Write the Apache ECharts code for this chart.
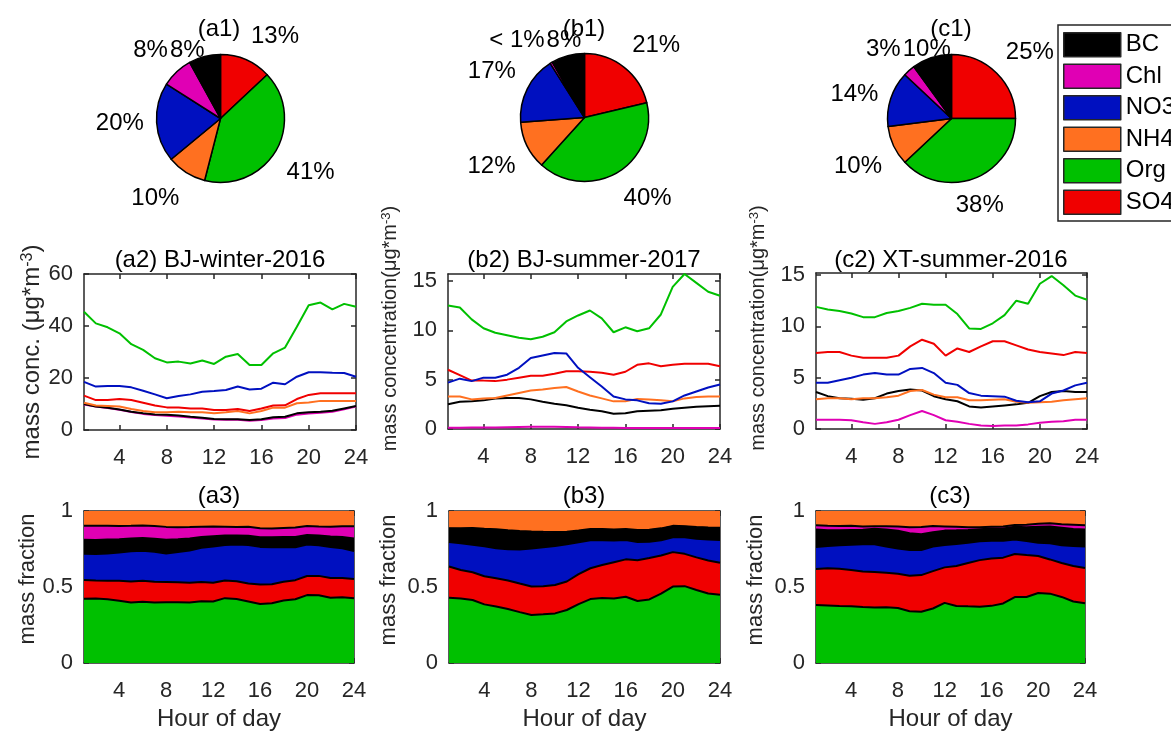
<!DOCTYPE html>
<html><head><meta charset="utf-8">
<script src="https://cdn.jsdelivr.net/npm/echarts@6/dist/echarts.min.js"></script>
<style>html,body{margin:0;padding:0;background:#fff}#c{width:1171px;height:731px}</style>
</head><body><div id="c"></div>
<script>
const F = '"Liberation Sans", Arial, Helvetica, sans-serif';
const hours = [1,2,3,4,5,6,7,8,9,10,11,12,13,14,15,16,17,18,19,20,21,22,23,24];
const species = ['BC','Chl','NO3','NH4','Org','SO4'];
const colors = {BC:'#000000', Chl:'#e000b4', NO3:'#0010c0', NH4:'#ff7020', Org:'#00c000', SO4:'#f00000'};

// pie charts (clockwise from 12 o'clock)
const pieOrder = ['SO4','Org','NH4','NO3','Chl','BC'];
const a1Pct = [13,41,10,20,8,8];
const b1Pct = [21.3,40.4,12.1,17.2,0.6,8.4];
const c1Pct = [25,38,10,14,3,10];

// (a2) BJ-winter-2016
const a2_BC  = [10,9,8.6,7.9,7,6.4,6,5.9,5.6,5.1,4.7,4.2,4.1,4.1,3.8,4.1,4.9,5.1,6.4,6.8,7,7.4,8.3,9.2];
const a2_Chl = [9.8,9,8.5,7.8,6.9,6.2,5.8,5.5,5.2,4.8,4.4,4.0,3.9,3.9,3.6,3.8,4.4,4.6,5.9,6.3,6.6,7.0,8.0,9.0];
const a2_NO3 = [18.5,16.7,16.9,16.9,16.4,15.1,13.7,12.2,13.1,13.7,14.7,15,15.4,16.7,15.6,15.9,18.2,17.6,20.5,22.2,22.2,22,21.9,20.5];
const a2_NH4 = [10.5,9.4,9.2,9,8.1,7.3,6.8,6.8,7,6.8,6.8,6.4,6.8,7.3,6.4,7.3,8.6,8.6,10.3,10.6,11.2,11.2,11.2,11.2];
const a2_Org = [45.5,41,39.5,37.2,33,30.8,27.6,26,26.3,25.6,26.7,25.4,28.2,29.2,25,25,29.5,31.7,39.7,48,49,46.4,48.5,47.4];
const a2_SO4 = [13.2,11.5,11.5,11.9,11.5,10.5,9.4,8.7,8.7,8.3,8.3,7.7,7.7,8.1,7.3,8.3,9.4,9.5,11.9,13.5,14.1,14.1,14.1,14.1];

// (b2) BJ-summer-2017
const b2_BC  = [2.5,2.75,2.8,2.9,3.1,3.15,3.15,3.0,2.75,2.55,2.4,2.15,1.95,1.8,1.55,1.6,1.8,1.85,1.9,2.05,2.15,2.25,2.3,2.35];
const b2_Chl = [0.12,0.13,0.14,0.15,0.16,0.18,0.2,0.22,0.23,0.22,0.2,0.17,0.15,0.13,0.12,0.11,0.1,0.1,0.1,0.1,0.1,0.1,0.1,0.1];
const b2_NO3 = [4.7,5.1,4.85,5.2,5.2,5.5,6.2,7.2,7.45,7.7,7.65,6.2,5.25,4.3,3.3,3.0,2.9,2.6,2.55,2.8,3.4,3.8,4.2,4.5];
const b2_NH4 = [3.3,3.3,3.0,3.1,3.15,3.4,3.65,3.9,4.0,4.15,4.25,3.8,3.4,3.1,2.8,2.8,3.05,3.0,2.9,2.8,3.1,3.25,3.3,3.3];
const b2_Org = [12.5,12.3,11.1,10.2,9.75,9.5,9.25,9.1,9.35,9.8,10.9,11.5,12.0,11.2,9.8,10.3,9.9,10.2,11.6,14.4,15.7,14.8,13.9,13.5];
const b2_SO4 = [6.0,5.45,4.9,4.9,4.85,5.0,5.2,5.4,5.4,5.6,5.85,5.85,5.8,5.7,5.5,5.8,6.5,6.65,6.35,6.5,6.6,6.6,6.6,6.35];

// (c2) XT-summer-2016
const c2_BC  = [3.6,3.2,3.0,2.95,2.85,3.0,3.45,3.7,3.85,3.75,3.2,2.9,2.7,2.2,2.1,2.2,2.3,2.4,2.55,3.2,3.6,3.7,3.6,3.6];
const c2_Chl = [0.9,0.9,0.9,0.85,0.65,0.5,0.65,0.9,1.35,1.75,1.35,0.85,0.7,0.5,0.35,0.3,0.35,0.35,0.45,0.6,0.7,0.75,0.9,0.9];
const c2_NO3 = [4.5,4.5,4.75,5.0,5.3,5.45,5.3,5.3,5.85,5.95,5.45,4.5,4.3,3.5,3.25,3.2,3.15,2.75,2.6,2.7,3.45,3.75,4.25,4.5];
const c2_NH4 = [2.9,3.0,3.0,2.9,3.0,3.0,3.1,3.25,3.7,3.8,3.35,3.1,3.1,2.8,2.8,2.85,2.9,2.65,2.55,2.6,2.65,2.8,2.9,3.0];
const c2_Org = [11.9,11.65,11.5,11.25,10.9,10.9,11.3,11.5,11.8,12.2,12.1,12.1,11.2,9.8,9.75,10.3,11.1,12.5,12.2,14.15,14.9,14.0,13.0,12.6];
const c2_SO4 = [7.4,7.5,7.5,7.15,6.95,6.95,6.95,7.15,8.05,8.7,8.3,7.15,7.85,7.5,8.05,8.55,8.55,8.15,7.75,7.5,7.35,7.2,7.5,7.4];

const hourTicks = [4,8,12,16,20,24];
const yTicksA = [0,20,40,60];
const yTicksB = [0,5,10,15];
const yTicksFrac = [0,0.5,1];

const sets = [
  {BC:a2_BC, Chl:a2_Chl, NO3:a2_NO3, NH4:a2_NH4, Org:a2_Org, SO4:a2_SO4},
  {BC:b2_BC, Chl:b2_Chl, NO3:b2_NO3, NH4:b2_NH4, Org:b2_Org, SO4:b2_SO4},
  {BC:c2_BC, Chl:c2_Chl, NO3:c2_NO3, NH4:c2_NH4, Org:c2_Org, SO4:c2_SO4}
];

// mass fraction of each species = concentration / sum of all species
function fractions(set) {
  const out = {}; species.forEach(s => out[s] = []);
  for (let i = 0; i < hours.length; i++) {
    let t = 0; species.forEach(s => t += set[s][i]);
    species.forEach(s => out[s].push(set[s][i] / t));
  }
  return out;
}

const AX = '#262626';
const gridsPos = [
  {left:84, top:274, width:272, height:156},
  {left:448, top:274, width:272, height:155},
  {left:816, top:273, width:271, height:156},
  {left:84, top:511, width:270, height:152},
  {left:449, top:511, width:271, height:152},
  {left:816, top:511, width:269, height:152}
];
const grid = gridsPos.map(g => Object.assign({outerBoundsMode:'none', containLabel:false}, g));

const xAxis = [], yAxis = [];
const yMax = [60, 15.7, 15.2, 1, 1, 1];
const yTicks = [yTicksA, yTicksB, yTicksB, yTicksFrac, yTicksFrac, yTicksFrac];
function sup(t) { return '{t|' + t + '}{s|-3}{t|)}'; }
const yNames = [sup('mass conc. (μg*m'), sup('mass concentration(μg*m'), sup('mass concentration(μg*m'), 'mass fraction', 'mass fraction', 'mass fraction'];
const yNameSize = [24, 20, 20, 22, 22, 22];
const yNameGap = [40, 48, 48, 41, 49, 49];
const yNameShift = [0, 46, 46, 16, 14, 14];
const lineStyleAx = {color: AX, width: 1.5};
const tickShow = (idx, val) => Number(val) % 4 === 0;
for (let g = 0; g < 6; g++) {
  const labelStyle = {fontSize: 22, color: AX, fontFamily: F};
  const isFrac = g >= 3;
  const xBase = isFrac
    ? {type:'category', data:hours.map(String), boundaryGap:false}
    : {type:'value', min:1, max:24};
  const tickCfg = isFrac ? {interval: tickShow} : {customValues: hourTicks};
  xAxis.push(Object.assign({gridIndex:g, position:'bottom',
    axisLine:{show:true, onZero:false, lineStyle:lineStyleAx},
    axisTick:Object.assign({show:true, inside:true, length:5, lineStyle:lineStyleAx}, tickCfg),
    axisLabel:Object.assign({show:true, margin:17}, tickCfg, labelStyle),
    splitLine:{show:false},
    name: isFrac ? 'Hour of day' : '', nameLocation:'middle', nameGap:44,
    nameTextStyle:{fontSize:24, color:AX, fontFamily:F}}, xBase));
  xAxis.push(Object.assign({gridIndex:g, position:'top',
    axisLine:{show:true, onZero:false, lineStyle:lineStyleAx},
    axisTick:Object.assign({show:true, inside:true, length:5, lineStyle:lineStyleAx}, tickCfg),
    axisLabel:{show:false}, splitLine:{show:false}}, xBase));
  const ns = yNameSize[g];
  yAxis.push({type:'value', gridIndex:g, position:'left', min:0, max:yMax[g],
    axisLine:{show:true, onZero:false, lineStyle:lineStyleAx},
    axisTick:{show:true, inside:true, length:5, customValues:yTicks[g], lineStyle:lineStyleAx},
    axisLabel:Object.assign({show:true, margin:11, customValues:yTicks[g]}, labelStyle),
    splitLine:{show:false},
    name:yNames[g], nameLocation:'middle', nameRotate:90, nameGap:yNameGap[g],
    nameTextStyle:{fontSize:ns, color:AX, fontFamily:F, padding:[0,0,0,yNameShift[g]],
      rich:{t:{fontSize:ns, color:AX, fontFamily:F}, s:{fontSize:Math.round(ns*0.66), color:AX, fontFamily:F, verticalAlign:'top'}}}});
  yAxis.push({type:'value', gridIndex:g, position:'right', min:0, max:yMax[g],
    axisLine:{show:true, onZero:false, lineStyle:lineStyleAx},
    axisTick:{show:true, inside:true, length:5, customValues:yTicks[g], lineStyle:lineStyleAx},
    axisLabel:{show:false}, splitLine:{show:false}});
}

const series = [];
// pies
const pieDefs = [
  {center:[220.5,118.5], vals:a1Pct, rects:[]},
  {center:[584.5,117.5], vals:b1Pct, rects:[]},
  {center:[951.5,118.5], vals:c1Pct, rects:[]}
];
const R = 64;
pieDefs.forEach(pd => {
  const total = pd.vals.reduce((a,b)=>a+b, 0);
  series.push({
    type:'pie', center:pd.center, radius:R, startAngle:90, clockwise:true,
    avoidLabelOverlap:false, silent:true, animation:false,
    itemStyle:{borderColor:'#000', borderWidth:1.5},
    label:{show:true, position:'outside', fontSize:24, color:'#000', fontFamily:F,
      formatter: p => p.value < 1 ? '< 1%' : Math.round(p.value) + '%'},
    labelLine:{show:false},
    emphasis:{disabled:true},
    labelLayout: function (p) {
      const i = p.dataIndex;
      let cum = 0;
      for (let k = 0; k < i; k++) cum += pd.vals[k];
      const mid = (cum + pd.vals[i] / 2) / total * 2 * Math.PI;
      const dx = Math.sin(mid), dy = -Math.cos(mid);
      let x = pd.center[0] + 1.2 * R * dx, y = pd.center[1] + 1.2 * R * dy;
      let align = dx > 0.02 ? 'left' : (dx < -0.02 ? 'right' : 'center');
      if (dy > 0 && Math.abs(dx) < 0.45) align = 'center';
      let va = Math.abs(dy) < 0.35 ? 'middle' : (dy < 0 ? 'bottom' : 'top');
      if (va === 'top') y += 3;
      const w = p.labelRect.width, h = p.labelRect.height;
      let left = align === 'left' ? x : (align === 'right' ? x - w : x - w / 2);
      let top = va === 'top' ? y : (va === 'bottom' ? y - h : y - h / 2);
      const prev = pd.rects[i - 1];
      if (prev && left < prev.left + prev.w && left + w > prev.left && top < prev.top + prev.h && top + h > prev.top) {
        left = prev.left + prev.w + 2; top = prev.top;
        x = left; y = top; align = 'left'; va = 'top';
      }
      pd.rects[i] = {left, top, w, h};
      return {x, y, align, verticalAlign: va};
    },
    data: pieOrder.map((n, i) => ({name:n, value:pd.vals[i], itemStyle:{color:colors[n]}}))
  });
});

// concentration lines
const lineOrder = ['Chl','BC','NH4','SO4','NO3','Org'];
sets.forEach((set, g) => {
  lineOrder.forEach(s => {
    series.push({type:'line', name:'c' + g + '-' + s, xAxisIndex:2*g, yAxisIndex:2*g,
      showSymbol:false, silent:true, animation:false,
      lineStyle:{color:colors[s], width:2}, itemStyle:{color:colors[s]},
      data: hours.map((h, i) => [h, set[s][i]])});
  });
});

// mass fraction stacked areas
const stackOrder = ['Org','SO4','NO3','BC','Chl','NH4'];
sets.forEach((set, g) => {
  const fr = fractions(set);
  const gi = g + 3;
  stackOrder.forEach(s => {
    series.push({type:'line', name:'f' + g + '-' + s, xAxisIndex:2*gi, yAxisIndex:2*gi,
      stack:'fa' + g, showSymbol:false, silent:true, animation:false,
      lineStyle:{width:0, color:colors[s]}, itemStyle:{color:colors[s]},
      areaStyle:{color:colors[s], opacity:1},
      data: fr[s]});
  });
  stackOrder.slice(0, 5).forEach(s => {
    series.push({type:'line', name:'b' + g + '-' + s, xAxisIndex:2*gi, yAxisIndex:2*gi,
      stack:'fb' + g, showSymbol:false, silent:true, animation:false, z:3,
      lineStyle:{width:2, color:'#000'}, itemStyle:{color:'#000'},
      data: fr[s]});
  });
});

const titleStyle = {fontSize:24, fontWeight:'normal', color:'#000', fontFamily:F};
function T(text, x, y) { return {text, left:x, top:y, textAlign:'center', padding:0, textStyle:titleStyle}; }
const title = [
  T('(a1)', 219, 17), T('(b1)', 584, 17), T('(c1)', 951, 17),
  T('(a2) BJ-winter-2016', 220, 248), T('(b2) BJ-summer-2017', 584, 248), T('(c2) XT-summer-2016', 951, 248),
  T('(a3)', 219, 484), T('(b3)', 584, 484), T('(c3)', 950, 484)
];

const option = {
  animation:false,
  textStyle:{fontFamily:F},
  title, grid, xAxis, yAxis, series,
  legend:{orient:'vertical', left:1058, top:25, data:species, icon:'rect',
    itemWidth:57, itemHeight:24, itemGap:6, padding:[7,6,6,5],
    borderColor:AX, borderWidth:1.5, selectedMode:false,
    textStyle:{fontSize:24, color:'#000', fontFamily:F},
    itemStyle:{borderColor:AX, borderWidth:1.5}}
};
const chart = echarts.init(document.getElementById('c'), null, {renderer:'canvas'});
chart.setOption(option);
</script></body></html>
